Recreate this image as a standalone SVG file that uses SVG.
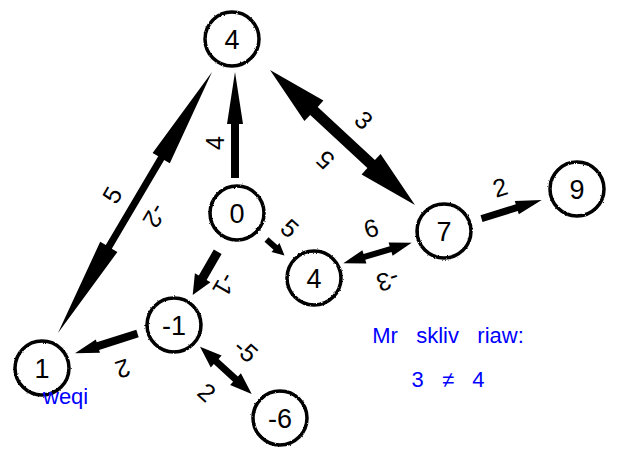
<svg xmlns="http://www.w3.org/2000/svg" width="618" height="458" viewBox="0 0 618 458">
  <defs>
    <filter id="rough" x="-20%" y="-20%" width="140%" height="140%">
      <feTurbulence type="fractalNoise" baseFrequency="0.6" numOctaves="2" seed="3" result="noise"/>
      <feDisplacementMap in="SourceGraphic" in2="noise" scale="2.2" xChannelSelector="R" yChannelSelector="G"/>
    </filter>
  </defs>
  <style>
    .node circle { fill: #ffffff; stroke: #000000; stroke-width: 3.5; filter: url(#rough); }
    .node text { font-family: "Liberation Sans", Arial, sans-serif; font-size: 27px; fill: #000000; text-anchor: middle; }
    .edge path { fill: #000000; stroke: none; }
    .elabel { font-family: "Liberation Sans", Arial, sans-serif; font-size: 25px; fill: #000000; text-anchor: middle; }
    .note { font-family: "Liberation Sans", Arial, sans-serif; font-size: 22px; fill: #0000ff; }
  </style>

  <g id="connectors">
    <g class="edge" id="e-0-4a"><path d="M235,72 L243,124 L239,124 L239,178 L231,178 L231,124 L227,124 Z"/></g>
    <g class="edge" id="e-1-4a"><path d="M212,72 L169.8,163.2 L164.2,159.9 L111.8,248.7 L117.4,252 L58,333 L100.2,241.8 L105.8,245.1 L158.2,156.3 L152.6,153 Z"/></g>
    <g class="edge" id="e-4a-7"><path d="M270,70 L323.4,100.6 L317.7,106.9 L374.9,160.1 L380.6,153.9 L415,205 L361.6,174.4 L367.4,168.1 L310.2,114.9 L304.4,121.1 Z"/></g>
    <g class="edge" id="e-7-9"><path d="M541.7,200 L518.8,214.3 L517.8,211 L482.5,221.9 L480.5,215.2 L515.8,204.3 L514.8,200.9 Z"/></g>
    <g class="edge" id="e-4b-7"><path d="M343.3,263.3 L362.4,250.2 L363.5,254 L389.7,246.2 L388.6,242.4 L411.7,242.7 L392.6,255.8 L391.5,252 L365.3,259.8 L366.4,263.6 Z"/></g>
    <g class="edge" id="e-0-4b"><path d="M284.5,255.5 L271.5,252.1 L273.5,249.8 L264.5,241.8 L268.5,237.3 L277.5,245.3 L279.5,243.1 Z"/></g>
    <g class="edge" id="e-0-m1"><path d="M192.7,295 L210.5,282.2 L206.6,280 L221.6,254 L213.8,249.5 L198.8,275.5 L194.9,273.2 Z"/></g>
    <g class="edge" id="e-m1-1"><path d="M75,353.3 L100,352.8 L99.1,349.9 L138.7,337.3 L136.3,329.7 L96.7,342.3 L95.8,339.4 Z"/></g>
    <g class="edge" id="e-m1-m6"><path d="M200,346.7 L221.6,355.6 L218.6,358.9 L237.9,376.6 L240.9,373.3 L251.7,394 L230.1,385.1 L233.1,381.8 L213.8,364.1 L210.8,367.4 Z"/></g>

    <g id="edge-labels">
      <text class="elabel" transform="translate(215,143) rotate(-90)" dy="0.36em">4</text>
      <text class="elabel" transform="translate(112,195) rotate(-59.5)" dy="0.36em">5</text>
      <text class="elabel" transform="translate(155,216) rotate(120.5)" dy="0.36em">-2</text>
      <text class="elabel" transform="translate(364,120) rotate(43)" dy="0.36em">3</text>
      <text class="elabel" transform="translate(325,160) rotate(223)" dy="0.36em">5</text>
      <text class="elabel" transform="translate(500,187) rotate(-17)" dy="0.36em">2</text>
      <text class="elabel" transform="translate(371,228) rotate(-17)" dy="0.36em">6</text>
      <text class="elabel" transform="translate(388,281) rotate(163)" dy="0.36em">-3</text>
      <text class="elabel" transform="translate(290,228) rotate(41.5)" dy="0.36em">5</text>
      <text class="elabel" transform="translate(225,285) rotate(120)" dy="0.36em">-1</text>
      <text class="elabel" transform="translate(123,369) rotate(162)" dy="0.36em">2</text>
      <text class="elabel" transform="translate(246,350) rotate(41.5)" dy="0.36em">-5</text>
      <text class="elabel" transform="translate(207,392) rotate(41.5)" dy="0.36em">2</text>
    </g>
  </g>

  <g class="node" id="node-4a"><circle cx="232" cy="39" r="27"/><text x="232" y="49">4</text></g>
  <g class="node" id="node-0"><circle cx="237" cy="213" r="27"/><text x="237" y="223">0</text></g>
  <g class="node" id="node-7"><circle cx="444" cy="231" r="27"/><text x="444" y="241">7</text></g>
  <g class="node" id="node-9"><circle cx="577" cy="189" r="27"/><text x="577" y="199">9</text></g>
  <g class="node" id="node-4b"><circle cx="314" cy="278" r="27"/><text x="314" y="288">4</text></g>
  <g class="node" id="node-m1"><circle cx="174" cy="325" r="27"/><text x="174" y="335">-1</text></g>
  <g class="node" id="node-1"><circle cx="42" cy="368" r="27"/><text x="42" y="378">1</text></g>
  <g class="node" id="node-m6"><circle cx="280" cy="418" r="27"/><text x="280" y="428">-6</text></g>

  <g id="notes">
    <text class="note" x="43" y="404">weqi</text>
    <text class="note" x="448" y="343" text-anchor="middle" xml:space="preserve">Mr   skliv   riaw:</text>
    <text class="note" x="448" y="387" text-anchor="middle" xml:space="preserve">3   ≠   4</text>
  </g>
</svg>
